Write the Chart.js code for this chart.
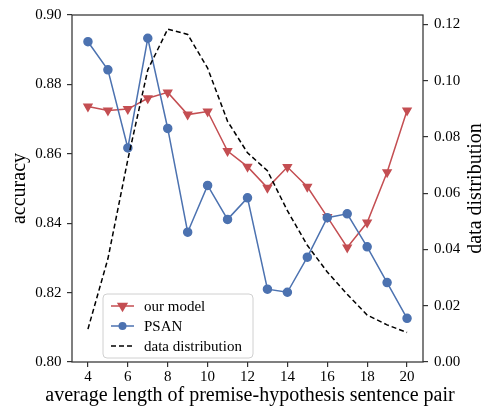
<!DOCTYPE html>
<html>
<head>
<meta charset="utf-8">
<script src="https://cdn.jsdelivr.net/npm/chart.js@4"></script>
<style>
  html, body { margin: 0; padding: 0; background: #fff; }
  #wrap { width: 487px; height: 408px; position: relative; }
</style>
</head>
<body>
<div id="wrap"><canvas id="chart"></canvas></div>
<script>
// values
const lengths = [4, 5, 6, 7, 8, 9, 10, 11, 12, 13, 14, 15, 16, 17, 18, 19, 20];
const ourModel = [0.8736, 0.8725, 0.8729, 0.8760, 0.8777, 0.8713, 0.8722, 0.8608, 0.8563, 0.8502, 0.8562, 0.8505, 0.8418, 0.8330, 0.8402, 0.8547, 0.8725];
const psan = [0.8923, 0.8842, 0.8617, 0.8933, 0.8673, 0.8374, 0.8509, 0.8411, 0.8473, 0.8210, 0.8201, 0.8302, 0.8416, 0.8427, 0.8332, 0.8229, 0.8126];
const dataDist = [0.0117, 0.0367, 0.0720, 0.1039, 0.1184, 0.1165, 0.1045, 0.0856, 0.0744, 0.0680, 0.0538, 0.0415, 0.0320, 0.0241, 0.0167, 0.0132, 0.0105];

const xTicks = [4, 6, 8, 10, 12, 14, 16, 18, 20];
const accTicks = [0.80, 0.82, 0.84, 0.86, 0.88, 0.90];
const distTicks = [0.00, 0.02, 0.04, 0.06, 0.08, 0.10, 0.12];

const RED = '#c44e52';
const BLUE = '#4c72b0';
const FONT = "'Liberation Serif', 'DejaVu Serif', serif";
const FRAME = '#333333';

const pts = arr => arr.map((v, i) => ({ x: lengths[i], y: v }));

const frameAndLabels = {
    id: 'frameAndLabels',
    afterDraw(chart) {
        const c = chart.ctx, a = chart.chartArea;
        c.save();
        c.strokeStyle = FRAME;
        c.lineWidth = 1.25;
        c.strokeRect(a.left, a.top, a.right - a.left, a.bottom - a.top);

        // axis titles
        c.fillStyle = '#000';
        c.font = '20px ' + FONT;
        c.textAlign = 'center';
        c.textBaseline = 'middle';
        c.fillText('average length of premise-hypothesis sentence pair', 250, 396);
        c.save();
        c.translate(20, (a.top + a.bottom) / 2);
        c.rotate(-Math.PI / 2);
        c.fillText('accuracy', 0, 0);
        c.restore();
        c.save();
        c.translate(476, (a.top + a.bottom) / 2);
        c.rotate(-Math.PI / 2);
        c.fillText('data distribution', 0, 0);
        c.restore();

        // legend box
        const bx = 103, by = 294, bw = 150, bh = 64, r = 4;
        c.beginPath();
        c.moveTo(bx + r, by);
        c.arcTo(bx + bw, by, bx + bw, by + bh, r);
        c.arcTo(bx + bw, by + bh, bx, by + bh, r);
        c.arcTo(bx, by + bh, bx, by, r);
        c.arcTo(bx, by, bx + bw, by, r);
        c.closePath();
        c.fillStyle = 'rgba(255,255,255,0.8)';
        c.fill();
        c.strokeStyle = '#d0d0d0';
        c.lineWidth = 1;
        c.stroke();

        const rows = [306, 326, 346];
        c.font = '15px ' + FONT;
        c.textAlign = 'left';
        chart.data.datasets.forEach((ds, i) => {
            const y = rows[i];
            c.strokeStyle = ds.borderColor;
            c.lineWidth = ds.borderWidth;
            c.setLineDash(ds.borderDash || []);
            c.beginPath();
            c.moveTo(111, y);
            c.lineTo(134, y);
            c.stroke();
            c.setLineDash([]);
            if (ds.pointRadius > 0) {
                c.fillStyle = ds.pointBackgroundColor;
                c.beginPath();
                if (ds.pointStyle === 'circle') {
                    c.arc(122.5, y, ds.pointRadius, 0, Math.PI * 2);
                } else {
                    const s = ds.pointRadius * 1.25;
                    c.moveTo(122.5 - s, y - s * 0.6);
                    c.lineTo(122.5 + s, y - s * 0.6);
                    c.lineTo(122.5, y + s * 1.1);
                    c.closePath();
                }
                c.fill();
            }
            c.fillStyle = '#000';
            c.fillText(ds.label, 144, y + 1);
        });
        c.restore();
    }
};

const tickGrid = { display: true, drawOnChartArea: false, drawTicks: true, tickLength: 5, color: FRAME, lineWidth: 1.2 };
const tickFont = { family: FONT, size: 15 };

new Chart(document.getElementById('chart'), {
    type: 'line',
    data: {
        datasets: [
            {
                label: 'our model',
                data: pts(ourModel),
                yAxisID: 'y',
                borderColor: RED,
                backgroundColor: RED,
                pointBackgroundColor: RED,
                pointBorderColor: RED,
                pointStyle: 'triangle',
                rotation: 180,
                pointRadius: 4.5,
                borderWidth: 1.5,
                order: 2
            },
            {
                label: 'PSAN',
                data: pts(psan),
                yAxisID: 'y',
                borderColor: BLUE,
                backgroundColor: BLUE,
                pointBackgroundColor: BLUE,
                pointBorderColor: BLUE,
                pointStyle: 'circle',
                pointRadius: 4,
                borderWidth: 1.5,
                order: 1
            },
            {
                label: 'data distribution',
                data: pts(dataDist),
                yAxisID: 'y2',
                borderColor: '#000',
                backgroundColor: '#000',
                borderDash: [5, 3],
                pointRadius: 0,
                borderWidth: 1.5,
                order: 0
            }
        ]
    },
    options: {
        responsive: true,
        maintainAspectRatio: false,
        animation: false,
        layout: { padding: { top: 13, left: 0, right: 0, bottom: 0 } },
        plugins: { legend: { display: false }, tooltip: { enabled: false } },
        elements: { line: { tension: 0 } },
        scales: {
            x: {
                type: 'linear',
                min: 3.2,
                max: 20.8,
                grid: tickGrid,
                border: { display: false },
                ticks: { color: '#000', font: tickFont, padding: 1, maxRotation: 0 },
                afterBuildTicks: s => { s.ticks = xTicks.map(v => ({ value: v })); },
                afterFit: s => { s.height = 46; }
            },
            y: {
                position: 'left',
                min: 0.80,
                max: 0.90,
                grid: tickGrid,
                border: { display: false },
                ticks: { color: '#000', font: tickFont, padding: 5.5, callback: v => v.toFixed(2) },
                afterBuildTicks: s => { s.ticks = accTicks.map(v => ({ value: v })); },
                afterFit: s => { s.width = 72; }
            },
            y2: {
                position: 'right',
                min: 0,
                max: 0.1234,
                grid: tickGrid,
                border: { display: false },
                ticks: { color: '#000', font: tickFont, padding: 6, callback: v => v.toFixed(2) },
                afterBuildTicks: s => { s.ticks = distTicks.map(v => ({ value: v })); },
                afterFit: s => { s.width = 64; }
            }
        }
    },
    plugins: [frameAndLabels]
});
</script>
</body>
</html>
